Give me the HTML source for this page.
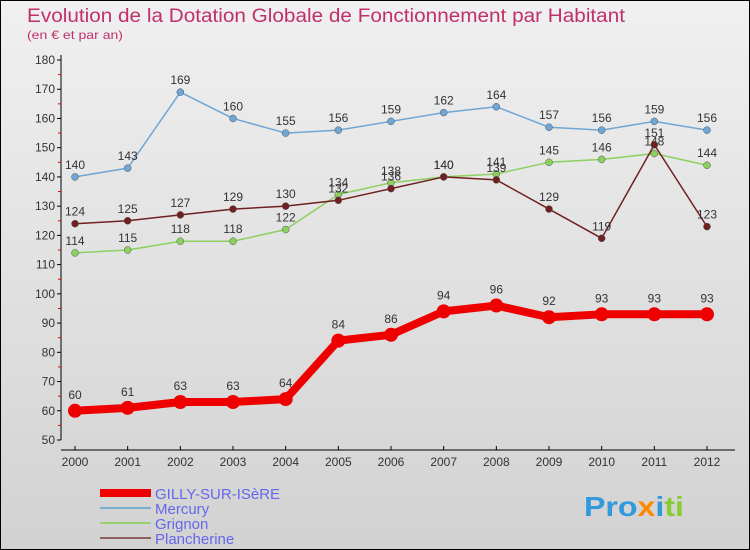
<!DOCTYPE html>
<html><head><meta charset="utf-8"><style>
body{margin:0}
svg{display:block;font-family:"Liberation Sans",sans-serif}
</style></head><body>
<svg id="c" width="750" height="550">
<defs><linearGradient id="bg" x1="0" y1="0" x2="0" y2="1"><stop offset="0" stop-color="#f0f0f0"/><stop offset="1" stop-color="#d2d2d2"/></linearGradient></defs>
<rect x="0.5" y="0.5" width="749" height="549" fill="url(#bg)" stroke="#000"/>
<text x="27" y="22" font-size="19" fill="#c0306a" textLength="598" lengthAdjust="spacingAndGlyphs">Evolution de la Dotation Globale de Fonctionnement par Habitant</text>
<text x="27" y="39" font-size="12" fill="#c0306a" textLength="96" lengthAdjust="spacingAndGlyphs">(en € et par an)</text>
<g id="axes"></g><g id="series"></g>
<g>
<rect x="100" y="489" width="51" height="8" fill="#e00"/>
<text x="155" y="499" font-size="15" fill="#6666ee">GILLY-SUR-ISèRE</text>
<line x1="100" y1="508" x2="151" y2="508" stroke="#7aaed0" stroke-width="2"/>
<text x="155" y="514" font-size="15" fill="#6666ee">Mercury</text>
<line x1="100" y1="523" x2="151" y2="523" stroke="#99d070" stroke-width="2"/>
<text x="155" y="529" font-size="15" fill="#6666ee">Grignon</text>
<line x1="100" y1="538" x2="151" y2="538" stroke="#906060" stroke-width="2"/>
<text x="155" y="544" font-size="15" fill="#6666ee">Plancherine</text>
</g>
<text x="584" y="516" font-size="28" font-weight="bold" textLength="100" lengthAdjust="spacingAndGlyphs"><tspan fill="#3399dd">Pro</tspan><tspan fill="#ff8800">x</tspan><tspan fill="#3399dd">i</tspan><tspan fill="#88cc33">ti</tspan></text>
</svg>
<script>
const years=["2000","2001","2002","2003","2004","2005","2006","2007","2008","2009","2010","2011","2012"];
const yTicks=[50,60,70,80,90,100,110,120,130,140,150,160,170,180];
const gilly=[60,61,63,63,64,84,86,94,96,92,93,93,93];
const mercury=[140,143,169,160,155,156,159,162,164,157,156,159,156];
const grignon=[114,115,118,118,122,134,138,140,141,145,146,148,144];
const plancherine=[124,125,127,129,130,132,136,140,139,129,119,151,123];
const NS="http://www.w3.org/2000/svg";
const X=i=>75+i*(707-75)/12;
const Y=v=>440-(v-50)*380/130;
function mk(p,t,a){const e=document.createElementNS(NS,t);for(const k in a)e.setAttribute(k,a[k]);p.appendChild(e);return e;}
const ax=document.getElementById('axes');
let e=mk(ax,'line',{x1:61,y1:55,x2:61,y2:440,stroke:'#000'});


e=mk(ax,'line',{x1:61,y1:450,x2:735,y2:450,stroke:'#000'});


yTicks.forEach((v,i)=>{
 mk(ax,'line',{x1:57,y1:Y(v),x2:61,y2:Y(v),stroke:'#000'});
 if(i<yTicks.length-1)mk(ax,'line',{x1:58,y1:Y(v+5),x2:61,y2:Y(v+5),stroke:'#e00'});
 const t=mk(ax,'text',{x:55,y:Y(v)+4,'font-size':12,fill:'#333','text-anchor':'end'});t.textContent=v;
 
 
});
years.forEach((y,i)=>{
 mk(ax,'line',{x1:X(i),y1:446,x2:X(i),y2:450,stroke:'#000'});
 const t=mk(ax,'text',{x:X(i),y:466,'font-size':12,fill:'#333','text-anchor':'middle'});t.textContent=y;
 
 
});
const sg=document.getElementById('series');
function series(d,name,color,w,r){
 const g=mk(sg,'g',{});
 
 
 mk(g,'polyline',{points:d.map((v,i)=>X(i)+','+Y(v)).join(' '),fill:'none',stroke:color,'stroke-width':w,'stroke-linejoin':'round'});
 d.forEach((v,i)=>{
  const c=mk(g,'circle',{cx:X(i),cy:Y(v),r:r,fill:color,stroke:w>3?'none':'#555','stroke-width':0.5});
  
  
  const t=mk(g,'text',{x:X(i),y:Y(v)-(w>3?12:8),'font-size':12,fill:'#333','text-anchor':'middle'});t.textContent=v;
  
  
 });
}
series(mercury,'mercury','#6fa6d6',1.5,3.5);
series(grignon,'grignon','#8cd060',1.5,3.5);
series(plancherine,'plancherine','#702020',1.5,3.5);
series(gilly,'gilly','#ee0000',8,7);
</script>
</body></html>
